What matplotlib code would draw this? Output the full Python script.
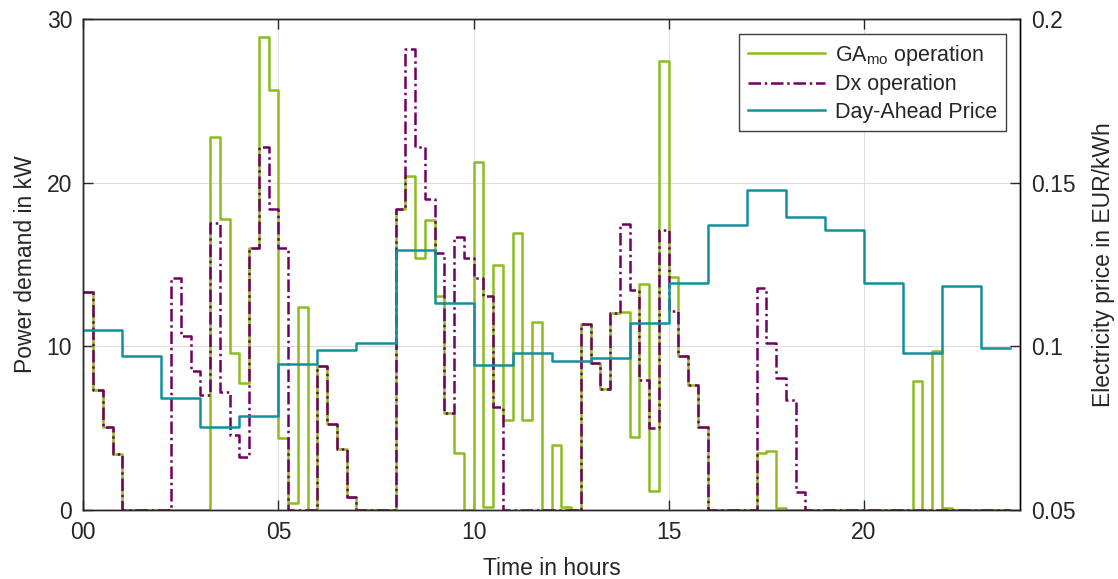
import matplotlib
matplotlib.use("Agg")
import matplotlib.pyplot as plt
import numpy as np

plt.rcParams['font.family'] = ['Liberation Sans', 'DejaVu Sans']
plt.rcParams['mathtext.fontset'] = 'custom'
plt.rcParams['mathtext.rm'] = 'Liberation Sans'
plt.rcParams['mathtext.it'] = 'Liberation Sans:italic'

# quarter-hour power demand in kW (96 values each)
ga_mo = [13.3, 7.35, 5.1, 3.4,   0, 0, 0, 0,   0, 0, 0, 0,   0, 22.8, 17.8, 9.6,
         7.75, 16.0, 28.9, 25.7,   4.4, 0.45, 12.4, 0,   8.8, 5.27, 3.73, 0.8,   0, 0, 0, 0,
         18.4, 20.4, 15.4, 17.7,   13.1, 5.9, 3.5, 0,   21.3, 0.2, 15.0, 5.5,   16.95, 5.5, 11.5, 0,
         4.0, 0.2, 0, 11.4,   9.0, 7.4, 12.06, 12.1,   4.45, 13.8, 1.16, 27.45,   14.26, 9.4, 7.65, 5.1,
         0, 0, 0, 0,   0, 3.5, 3.6, 0.1,   0, 0, 0, 0,   0, 0, 0, 0,
         0, 0, 0, 0,   0, 7.9, 0, 9.75,   0.1, 0, 0, 0,   0, 0, 0, 0]

dx = [13.3, 7.35, 5.1, 3.4,   0, 0, 0, 0,   0, 14.2, 10.65, 8.5,   7.0, 17.55, 7.23, 4.58,
      3.26, 16.0, 22.2, 18.4,   16.0, 0, 0, 0,   8.8, 5.27, 3.73, 0.8,   0, 0, 0, 0,
      18.4, 28.2, 22.2, 19.0,   15.7, 5.9, 16.7, 15.4,   14.2, 13.1, 6.3, 0,   0, 0, 0, 0,
      0, 0, 0, 11.4,   9.0, 7.4, 12.06, 17.5,   13.45, 7.95, 5.0, 17.1,   12.14, 9.4, 7.65, 5.1,
      0, 0, 0, 0,   0, 13.6, 10.2, 8.06,   6.7, 1.08, 0, 0,   0, 0, 0, 0,
      0, 0, 0, 0,   0, 0, 0, 0,   0, 0, 0, 0,   0, 0, 0, 0]

# hourly day-ahead price in EUR/kWh
price_hourly = [0.1050, 0.0971, 0.0843, 0.0753, 0.0788, 0.0946, 0.0989, 0.1010,
                0.1295, 0.1132, 0.0943, 0.0979, 0.0956, 0.0966, 0.1071, 0.1193,
                0.1371, 0.1478, 0.1397, 0.1356, 0.1195, 0.0979, 0.1185, 0.0994]

xtick_vals = [0, 5, 10, 15, 20]
xtick_labels = ['00', '05', '10', '15', '20']

t = np.arange(96) * 0.25
price = np.repeat(price_hourly, 4)

c_green = '#8CBD1E'
c_purple = '#720061'
c_teal = '#14909A'
txt = '#262626'
fs = 16.5

fig = plt.figure(figsize=(11.18, 5.79), dpi=100)
ax = fig.add_axes([0.0745, 0.1192, 0.8378, 0.8475])
ax2 = ax.twinx()

l1, = ax.step(t, ga_mo, where='post', color=c_green, lw=1.8, label=r'GA$_{\mathrm{mo}}$ operation')
l2, = ax.step(t, dx, where='post', color=c_purple, lw=1.8, linestyle=(0, (5, 1.5, 1, 1.5)),
              label='Dx operation')
l3, = ax2.step(t, price, where='post', color=c_teal, lw=1.8, label='Day-Ahead Price')

ax.set_xlim(0, 24)
ax.set_ylim(0, 30)
ax2.set_ylim(0.05, 0.2)
ax.set_xticks(xtick_vals)
ax.set_xticklabels(xtick_labels)
ax.set_yticks([0, 10, 20, 30])
ax2.set_yticks([0.05, 0.1, 0.15, 0.2])
ax2.set_yticklabels(['0.05', '0.1', '0.15', '0.2'])

ax.set_axisbelow(True)
ax.grid(True, color='#DEDEDE', lw=0.8)

ax.tick_params(axis='x', direction='in', length=7, width=1, top=True, labelsize=fs,
               colors=txt, pad=8)
ax.tick_params(axis='y', direction='in', length=7, width=1, right=False, labelsize=fs,
               colors=txt, pad=8)
ax2.tick_params(axis='y', direction='in', length=7, width=1, labelsize=fs, colors=txt, pad=8)

for a in (ax, ax2):
    for s in a.spines.values():
        s.set_linewidth(1.0)
        s.set_color('#262626')
ax2.spines['right'].set_color('k')
ax.spines['left'].set_color('k')

ax.set_xlabel('Time in hours', fontsize=fs, color=txt, labelpad=9)
ax.set_ylabel('Power demand in kW', fontsize=fs, color=txt, labelpad=7)
ax2.set_ylabel('Electricity price in EUR/kWh', fontsize=fs, color=txt, labelpad=12)

leg = ax2.legend(handles=[l1, l2, l3], loc='upper right', bbox_to_anchor=(0.985, 0.970),
                 borderaxespad=0, fontsize=15.5, handlelength=3.6, handletextpad=0.45,
                 labelspacing=0.3, borderpad=0.4, fancybox=False, framealpha=1)
leg.get_frame().set_edgecolor('#404040')
leg.get_frame().set_linewidth(1.0)
for text in leg.get_texts():
    text.set_color(txt)

fig.savefig('out.png', dpi=100)
